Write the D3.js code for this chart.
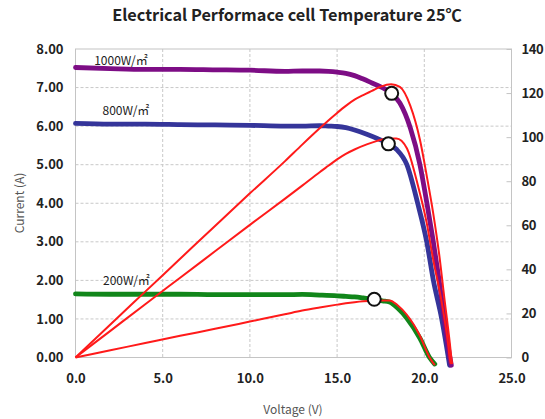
<!DOCTYPE html>
<html>
<head>
<meta charset="utf-8">
<script src="https://cdn.jsdelivr.net/npm/d3@7"></script>
<style>
  body { margin: 0; background: #fff; }
  text { font-family: 'Noto Sans CJK KR', 'Noto Sans', sans-serif; }
</style>
</head>
<body>
<div class="chart"></div>
<script>
// I-V readings per irradiance (voltage V, current A, power W)
const voltage1000 = [0, 2, 4, 6, 8, 10, 12, 13, 14, 14.5, 15, 15.5, 16, 16.5, 17, 17.5, 18.1, 18.6, 19.2, 19.75, 20.15, 20.5, 20.85, 21.15, 21.47, 21.55, 21.6];
const current1000 = [7.52, 7.49, 7.47, 7.47, 7.46, 7.45, 7.42, 7.43, 7.43, 7.42, 7.40, 7.37, 7.31, 7.22, 7.12, 7.02, 6.85, 6.6, 5.95, 5.0, 4.0, 3.05, 2.0, 1.0, 0.0, -0.2, null];
const power1000 = [0, 15.0, 29.9, 44.8, 59.7, 74.5, 89.0, 96.6, 104.0, 107.6, 111.0, 114.2, 117.0, 119.1, 121.0, 122.9, 124.0, 122.8, 114.2, 98.8, 82, 66, 47, 27, 6, 0, -3];

const voltage800 = [0, 2, 4, 6, 8, 10, 12, 13, 14, 14.5, 15, 15.5, 16, 16.7, 17.3, 17.95, 18.4, 19.0, 19.62, 20.14, 20.52, 21.0, 21.38, 21.45, 21.52];
const current800 = [6.07, 6.05, 6.05, 6.04, 6.03, 6.02, 6.0, 6.0, 6.01, 6.0, 5.99, 5.96, 5.9, 5.79, 5.68, 5.54, 5.4, 5.0, 4.0, 3.0, 2.0, 1.0, 0.0, -0.2, null];
const power800 = [0, 12.1, 24.2, 36.2, 48.2, 60.2, 72.0, 78.0, 84.1, 87.0, 89.9, 92.4, 94.4, 96.7, 98.3, 99.4, 99.4, 95.0, 78.5, 61, 44, 25, 5, 0, -3];

const voltage200 = [0, 2, 4, 6, 8, 10, 12, 13, 14, 15, 15.5, 16, 16.5, 17.1, 17.6, 18.0, 18.5, 19.0, 19.75, 20.3, 20.6];
const current200 = [1.65, 1.64, 1.64, 1.64, 1.63, 1.63, 1.63, 1.635, 1.62, 1.60, 1.585, 1.57, 1.545, 1.51, 1.47, 1.44, 1.27, 1.02, 0.5, 0.0, -0.17];
const power200 = [0, 3.28, 6.56, 9.84, 13.0, 16.3, 19.6, 21.3, 22.7, 24.0, 24.6, 25.1, 25.5, 25.8, 25.9, 25.9, 23.5, 19.4, 9.9, 0, -3.5];

const seriesNames = ['800W/㎡', '1000W/㎡', '200W/㎡'];
const seriesColors = ['#35359a', '#7d0d85', '#11861a'];

// maximum power points marked on the curves
const mppVoltage = [18.13, 17.94, 17.13];
const mppCurrent = [6.85, 5.54, 1.51];

const voltageTicks = [0, 5, 10, 15, 20, 25];
const currentTicks = [0, 1, 2, 3, 4, 5, 6, 7, 8];
const powerTicks = [0, 20, 40, 60, 80, 100, 120, 140];

const W = 545, H = 419;
const plot = { left: 75.5, right: 511.5, top: 49, bottom: 357.5 };

const svg = d3.select('.chart')
  .append('svg')
  .attr('width', W)
  .attr('height', H);

const x = d3.scaleLinear().domain([0, 25]).range([plot.left, plot.right]);
const y = d3.scaleLinear().domain([0, 8]).range([plot.bottom, plot.top]);
const y2 = d3.scaleLinear().domain([0, 140]).range([plot.bottom, plot.top]);

// title
svg.append('text')
  .attr('x', 287)
  .attr('y', 21)
  .attr('text-anchor', 'middle')
  .attr('font-size', 16.3)
  .attr('font-weight', 'bold')
  .attr('fill', '#222')
  .text('Electrical Performace cell Temperature 25℃');

// grid
const grid = svg.append('g').attr('stroke', '#c8c8c8').attr('stroke-dasharray', '3,2');
grid.selectAll('.vg')
  .data(voltageTicks.slice(1, -1))
  .enter()
  .append('line')
  .attr('x1', d => x(d)).attr('x2', d => x(d))
  .attr('y1', plot.top).attr('y2', plot.bottom);
grid.selectAll('.hg')
  .data(currentTicks.slice(1, -1))
  .enter()
  .append('line')
  .attr('x1', plot.left).attr('x2', plot.right)
  .attr('y1', d => y(d)).attr('y2', d => y(d));

svg.append('rect')
  .attr('x', plot.left).attr('y', plot.top)
  .attr('width', plot.right - plot.left)
  .attr('height', plot.bottom - plot.top)
  .attr('fill', 'none')
  .attr('stroke', '#c4c4c4');

// axes
const leftAxis = svg.append('g')
  .attr('transform', `translate(${plot.left},0)`)
  .call(d3.axisLeft(y).tickValues(currentTicks).tickFormat(d3.format('.2f')).tickSize(0).tickPadding(12));

const bottomAxis = svg.append('g')
  .attr('transform', `translate(0,${plot.bottom})`)
  .call(d3.axisBottom(x).tickValues(voltageTicks).tickFormat(d3.format('.1f')).tickSize(0).tickPadding(16));

const rightAxis = svg.append('g')
  .attr('transform', `translate(${plot.right},0)`)
  .call(d3.axisRight(y2).tickValues(powerTicks).tickSizeInner(-5).tickSizeOuter(0).tickPadding(10));

[leftAxis, bottomAxis, rightAxis].forEach(g => {
  g.select('.domain').remove();
  g.selectAll('line').attr('stroke', '#c4c4c4');
  g.selectAll('text')
    .attr('font-family', "'Noto Sans CJK KR', 'Noto Sans', sans-serif")
    .attr('font-size', 13)
    .attr('font-weight', 600)
    .attr('fill', '#222');
});
rightAxis.selectAll('text').attr('letter-spacing', -0.4);

svg.append('text')
  .attr('transform', 'translate(18,203) rotate(-90)')
  .attr('text-anchor', 'middle')
  .attr('dominant-baseline', 'central')
  .attr('font-size', 12)
  .attr('fill', '#555')
  .text('Current (A)');

svg.append('text')
  .attr('x', 293)
  .attr('y', 414)
  .attr('text-anchor', 'middle')
  .attr('font-size', 12)
  .attr('fill', '#555')
  .text('Voltage (V)');

// curves
const ivData = [
  { name: seriesNames[0], color: seriesColors[0], v: voltage800, i: current800, p: power800 },
  { name: seriesNames[1], color: seriesColors[1], v: voltage1000, i: current1000, p: power1000 },
  { name: seriesNames[2], color: seriesColors[2], v: voltage200, i: current200, p: power200 }
];

const ivLine = d3.line()
  .defined(d => d[1] !== null)
  .x(d => x(d[0]))
  .y(d => y(d[1]))
  .curve(d3.curveMonotoneX);

const pLine = d3.line()
  .x(d => x(d[0]))
  .y(d => y2(d[1]))
  .curve(d3.curveMonotoneX);

svg.append('g')
  .selectAll('path')
  .data(ivData)
  .enter()
  .append('path')
  .attr('fill', 'none')
  .attr('stroke', d => d.color)
  .attr('stroke-width', 4.8)
  .attr('stroke-linecap', 'round')
  .attr('stroke-linejoin', 'round')
  .attr('d', d => ivLine(d.v.map((v, k) => [v, d.i[k]])));

svg.append('g')
  .selectAll('path')
  .data(ivData)
  .enter()
  .append('path')
  .attr('fill', 'none')
  .attr('stroke', '#ff1a1a')
  .attr('stroke-width', 2)
  .attr('d', d => pLine(d.v.map((v, k) => [v, d.p[k]])));

svg.append('g')
  .selectAll('circle')
  .data(mppVoltage)
  .enter()
  .append('circle')
  .attr('cx', d => x(d))
  .attr('cy', (d, k) => y(mppCurrent[k]))
  .attr('r', 6.5)
  .attr('fill', '#fff')
  .attr('stroke', '#111')
  .attr('stroke-width', 2);

// irradiance labels
const labelPos = [[1.55, 6.28], [1.07, 7.58], [1.58, 1.88]];
svg.append('g')
  .selectAll('text')
  .data(seriesNames)
  .enter()
  .append('text')
  .attr('x', (d, k) => x(labelPos[k][0]))
  .attr('y', (d, k) => y(labelPos[k][1]))
  .attr('font-size', 12)
  .attr('fill', '#222')
  .text(d => d);
</script>
</body>
</html>
